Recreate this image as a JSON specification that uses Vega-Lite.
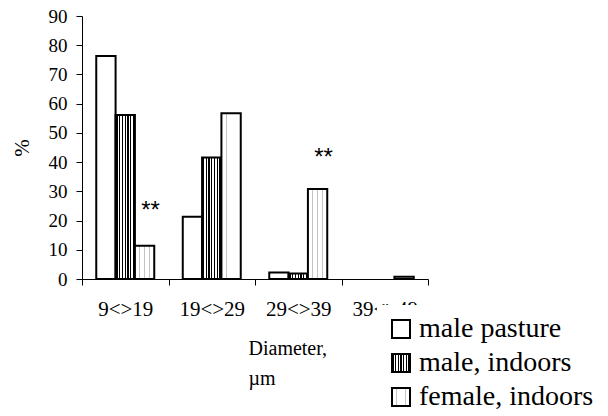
{
  "$schema": "https://vega.github.io/schema/vega-lite/v6.json",
  "width": 346,
  "height": 263,
  "autosize": {"type": "none"},
  "padding": {"left": 82, "top": 16, "right": 180, "bottom": 137},
  "background": "white",
  "params": [
    {"name": "stripes", "value": {"gradient": "linear", "x1": 0, "y1": 0, "x2": 1, "y2": 0, "stops": [
      {"offset": 0, "color": "#ffffff"},
      {"offset": 0.04, "color": "#ffffff"}, {"offset": 0.04, "color": "#000000"}, {"offset": 0.1, "color": "#000000"}, {"offset": 0.1, "color": "#ffffff"},
      {"offset": 0.183, "color": "#ffffff"}, {"offset": 0.183, "color": "#000000"}, {"offset": 0.243, "color": "#000000"}, {"offset": 0.243, "color": "#ffffff"},
      {"offset": 0.326, "color": "#ffffff"}, {"offset": 0.326, "color": "#000000"}, {"offset": 0.386, "color": "#000000"}, {"offset": 0.386, "color": "#ffffff"},
      {"offset": 0.469, "color": "#ffffff"}, {"offset": 0.469, "color": "#000000"}, {"offset": 0.529, "color": "#000000"}, {"offset": 0.529, "color": "#ffffff"},
      {"offset": 0.611, "color": "#ffffff"}, {"offset": 0.611, "color": "#000000"}, {"offset": 0.671, "color": "#000000"}, {"offset": 0.671, "color": "#ffffff"},
      {"offset": 0.754, "color": "#ffffff"}, {"offset": 0.754, "color": "#000000"}, {"offset": 0.814, "color": "#000000"}, {"offset": 0.814, "color": "#ffffff"},
      {"offset": 0.897, "color": "#ffffff"}, {"offset": 0.897, "color": "#000000"}, {"offset": 0.957, "color": "#000000"}, {"offset": 0.957, "color": "#ffffff"},
      {"offset": 1, "color": "#ffffff"}
    ]}},
    {"name": "dots", "value": {"gradient": "linear", "x1": 0, "y1": 0, "x2": 1, "y2": 0, "stops": [
      {"offset": 0, "color": "#ffffff"},
      {"offset": 0.23, "color": "#ffffff"}, {"offset": 0.23, "color": "#c4c4c4"}, {"offset": 0.27, "color": "#c4c4c4"}, {"offset": 0.27, "color": "#ffffff"},
      {"offset": 0.48, "color": "#ffffff"}, {"offset": 0.48, "color": "#c4c4c4"}, {"offset": 0.52, "color": "#c4c4c4"}, {"offset": 0.52, "color": "#ffffff"},
      {"offset": 0.73, "color": "#ffffff"}, {"offset": 0.73, "color": "#c4c4c4"}, {"offset": 0.77, "color": "#c4c4c4"}, {"offset": 0.77, "color": "#ffffff"},
      {"offset": 1, "color": "#ffffff"}
    ]}}
  ],
  "config": {
    "view": {"stroke": null},
    "font": "Liberation Serif",
    "axis": {"grid": false, "domainColor": "black", "tickColor": "black", "labelColor": "black", "titleColor": "black", "labelFont": "Liberation Serif", "titleFont": "Liberation Serif", "titleFontWeight": "normal", "tickSize": 6, "domainWidth": 1, "tickWidth": 1},
    "legend": {"labelFont": "Liberation Serif", "labelColor": "black"}
  },
  "datasets": {
    "bars": [
      {"d": "9<>19", "g": "male pasture", "v": 76.3},
      {"d": "9<>19", "g": "male, indoors", "v": 56.1},
      {"d": "9<>19", "g": "female, indoors", "v": 11.4},
      {"d": "19<>29", "g": "male pasture", "v": 21.3},
      {"d": "19<>29", "g": "male, indoors", "v": 41.6},
      {"d": "19<>29", "g": "female, indoors", "v": 56.7},
      {"d": "29<>39", "g": "male pasture", "v": 2.2},
      {"d": "29<>39", "g": "male, indoors", "v": 1.9},
      {"d": "29<>39", "g": "female, indoors", "v": 30.8},
      {"d": "39<>49", "g": "male pasture", "v": 0},
      {"d": "39<>49", "g": "male, indoors", "v": 0},
      {"d": "39<>49", "g": "female, indoors", "v": 0.8}
    ],
    "stars": [
      {"d": "9<>19", "g": "female, indoors", "v": 25, "t": "**"},
      {"d": "29<>39", "g": "female, indoors", "v": 43, "t": "**"}
    ]
  },
  "encoding": {
    "x": {
      "field": "d", "type": "nominal", "sort": ["9<>19", "19<>29", "29<>39", "39<>49"],
      "scale": {"paddingInner": 0, "paddingOuter": 0},
      "axis": {
        "labelAngle": 0, "tickBand": "extent", "labelFontSize": 21, "labelPadding": 13,
        "labelOverlap": false,
        "title": ["Diameter,", "µm"], "titleFontSize": 20, "titleAlign": "left", "titleAnchor": "start",
        "titleX": 166, "titleY": 75, "titleBaseline": "alphabetic", "titleLineHeight": 30
      }
    },
    "xOffset": {
      "field": "g", "type": "nominal",
      "scale": {"domain": ["male pasture", "male, indoors", "female, indoors"], "paddingInner": 0, "paddingOuter": 0.7375}
    },
    "y": {
      "field": "v", "type": "quantitative",
      "scale": {"domain": [0, 90], "nice": false},
      "axis": {"values": [0, 10, 20, 30, 40, 50, 60, 70, 80, 90], "labelFontSize": 19, "labelPadding": 9, "title": "%", "titleFontSize": 21, "titlePadding": 16}
    }
  },
  "layer": [
    {
      "data": {"name": "bars"},
      "mark": {"type": "bar", "stroke": "black"},
      "encoding": {
        "strokeWidth": {"condition": {"test": "datum.v == 0", "value": 0}, "value": 2},
        "fill": {
          "field": "g", "type": "nominal",
          "scale": {
            "domain": ["male pasture", "male, indoors", "female, indoors"],
            "range": ["#ffffff", {"expr": "stripes"}, {"expr": "dots"}]
          },
          "legend": {
            "title": null, "orient": "none", "legendX": 295, "legendY": 289,
            "padding": 10, "fillColor": "white", "strokeColor": null,
            "symbolType": "square", "symbolSize": 324, "symbolStrokeColor": "black", "symbolStrokeWidth": 2,
            "labelFontSize": 28, "labelOffset": 4,
            "rowPadding": 6, "labelLimit": 300
          }
        }
      }
    },
    {
      "data": {"name": "stars"},
      "mark": {"type": "text", "font": "Liberation Sans", "fontSize": 24, "baseline": "middle", "align": "center", "dx": 6, "dy": 5, "color": "black"},
      "encoding": {
        "text": {"field": "t"}
      }
    }
  ]
}
